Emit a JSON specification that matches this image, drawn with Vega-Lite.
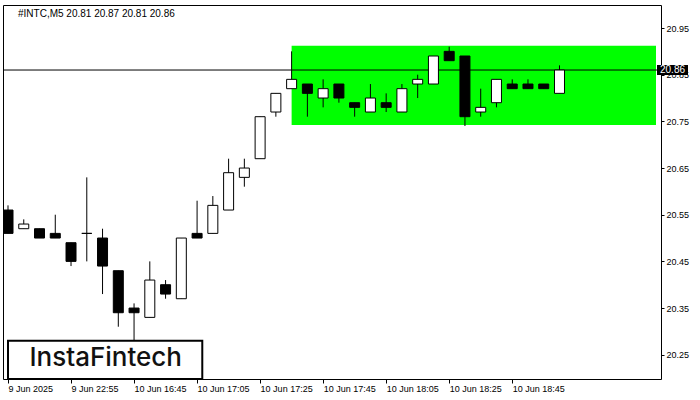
{
  "$schema": "https://vega.github.io/schema/vega-lite/v6.json",
  "autosize": {"type": "none"},
  "width": 658,
  "height": 374,
  "padding": {"left": 3, "top": 5, "right": 39, "bottom": 21},
  "background": "white",
  "config": {
    "view": {"stroke": "black", "strokeWidth": 1},
    "axis": {"grid": false, "domain": false, "labelFont": "Liberation Sans", "labelFontSize": 9, "labelColor": "black", "tickColor": "black", "title": null}
  },
  "title": {"text": "#INTC,M5  20.81 20.87 20.81 20.86", "anchor": "start", "frame": "group", "offset": -14, "dx": 15, "font": "Liberation Sans", "fontSize": 10, "fontWeight": "normal", "color": "black"},
  "datasets": {
    "candles": [
      {"i": 0, "time": "9 Jun 22:35", "open": 20.56, "high": 20.57, "low": 20.51, "close": 20.51},
      {"i": 1, "time": "9 Jun 22:40", "open": 20.52, "high": 20.54, "low": 20.52, "close": 20.53},
      {"i": 2, "time": "9 Jun 22:45", "open": 20.52, "high": 20.52, "low": 20.50, "close": 20.50},
      {"i": 3, "time": "9 Jun 22:50", "open": 20.51, "high": 20.55, "low": 20.50, "close": 20.50},
      {"i": 4, "time": "9 Jun 22:55", "open": 20.49, "high": 20.49, "low": 20.44, "close": 20.45},
      {"i": 5, "time": "10 Jun 16:30", "open": 20.51, "high": 20.63, "low": 20.45, "close": 20.51},
      {"i": 6, "time": "10 Jun 16:35", "open": 20.50, "high": 20.52, "low": 20.38, "close": 20.44},
      {"i": 7, "time": "10 Jun 16:40", "open": 20.43, "high": 20.43, "low": 20.31, "close": 20.34},
      {"i": 8, "time": "10 Jun 16:45", "open": 20.35, "high": 20.36, "low": 20.28, "close": 20.34},
      {"i": 9, "time": "10 Jun 16:50", "open": 20.33, "high": 20.45, "low": 20.33, "close": 20.41},
      {"i": 10, "time": "10 Jun 16:55", "open": 20.40, "high": 20.41, "low": 20.37, "close": 20.38},
      {"i": 11, "time": "10 Jun 17:00", "open": 20.37, "high": 20.50, "low": 20.37, "close": 20.50},
      {"i": 12, "time": "10 Jun 17:05", "open": 20.51, "high": 20.58, "low": 20.50, "close": 20.50},
      {"i": 13, "time": "10 Jun 17:10", "open": 20.51, "high": 20.59, "low": 20.51, "close": 20.57},
      {"i": 14, "time": "10 Jun 17:15", "open": 20.56, "high": 20.67, "low": 20.56, "close": 20.64},
      {"i": 15, "time": "10 Jun 17:20", "open": 20.63, "high": 20.67, "low": 20.61, "close": 20.65},
      {"i": 16, "time": "10 Jun 17:25", "open": 20.67, "high": 20.76, "low": 20.67, "close": 20.76},
      {"i": 17, "time": "10 Jun 17:30", "open": 20.77, "high": 20.81, "low": 20.76, "close": 20.81},
      {"i": 18, "time": "10 Jun 17:35", "open": 20.82, "high": 20.90, "low": 20.82, "close": 20.84},
      {"i": 19, "time": "10 Jun 17:40", "open": 20.83, "high": 20.83, "low": 20.76, "close": 20.81},
      {"i": 20, "time": "10 Jun 17:45", "open": 20.80, "high": 20.84, "low": 20.78, "close": 20.82},
      {"i": 21, "time": "10 Jun 17:50", "open": 20.83, "high": 20.83, "low": 20.79, "close": 20.80},
      {"i": 22, "time": "10 Jun 17:55", "open": 20.79, "high": 20.79, "low": 20.76, "close": 20.78},
      {"i": 23, "time": "10 Jun 18:00", "open": 20.77, "high": 20.83, "low": 20.77, "close": 20.80},
      {"i": 24, "time": "10 Jun 18:05", "open": 20.79, "high": 20.81, "low": 20.77, "close": 20.78},
      {"i": 25, "time": "10 Jun 18:10", "open": 20.77, "high": 20.83, "low": 20.77, "close": 20.82},
      {"i": 26, "time": "10 Jun 18:15", "open": 20.83, "high": 20.85, "low": 20.80, "close": 20.84},
      {"i": 27, "time": "10 Jun 18:20", "open": 20.83, "high": 20.89, "low": 20.83, "close": 20.89},
      {"i": 28, "time": "10 Jun 18:25", "open": 20.90, "high": 20.91, "low": 20.88, "close": 20.88},
      {"i": 29, "time": "10 Jun 18:30", "open": 20.89, "high": 20.89, "low": 20.74, "close": 20.76},
      {"i": 30, "time": "10 Jun 18:35", "open": 20.77, "high": 20.82, "low": 20.76, "close": 20.78},
      {"i": 31, "time": "10 Jun 18:40", "open": 20.79, "high": 20.84, "low": 20.78, "close": 20.84},
      {"i": 32, "time": "10 Jun 18:45", "open": 20.83, "high": 20.84, "low": 20.82, "close": 20.82},
      {"i": 33, "time": "10 Jun 18:50", "open": 20.83, "high": 20.84, "low": 20.82, "close": 20.82},
      {"i": 34, "time": "10 Jun 18:55", "open": 20.83, "high": 20.83, "low": 20.82, "close": 20.82},
      {"i": 35, "time": "10 Jun 19:00", "open": 20.81, "high": 20.87, "low": 20.81, "close": 20.86}
    ],
    "zone": [{"start": 18, "end": 41.125, "low": 20.742, "high": 20.912}],
    "last": [{"price": 20.86, "label": "20.86"}],
    "brand": [{"name": "InstaFintech"}]
  },
  "layer": [
    {
      "data": {"name": "zone"},
      "mark": {"type": "rect", "color": "#00FF00", "clip": true},
      "encoding": {
        "x": {"field": "start", "type": "quantitative", "scale": {"domain": [0, 41.125], "nice": false, "zero": false},
          "axis": {"orient": "bottom", "values": [0, 4, 8, 12, 16, 20, 24, 28, 32], "tickSize": 4, "labelPadding": 1, "labelAlign": "left", "labelBaseline": "top",
            "labelExpr": "['9 Jun 2025','9 Jun 22:55','10 Jun 16:45','10 Jun 17:05','10 Jun 17:25','10 Jun 17:45','10 Jun 18:05','10 Jun 18:25','10 Jun 18:45'][round(datum.value/4)]"}},
        "x2": {"field": "end"},
        "y": {"field": "low", "type": "quantitative", "scale": {"domain": [20.198, 20.9993], "nice": false, "zero": false},
          "axis": {"orient": "right", "values": [20.25, 20.35, 20.45, 20.55, 20.65, 20.75, 20.85, 20.95], "format": ".2f", "tickSize": 3, "labelPadding": 2}},
        "y2": {"field": "high"}
      }
    },
    {
      "data": {"name": "last"},
      "mark": {"type": "rule", "color": "black", "strokeWidth": 1},
      "encoding": {"y": {"field": "price", "type": "quantitative"}}
    },
    {
      "data": {"name": "candles"},
      "mark": {"type": "rule", "color": "black", "strokeWidth": 1, "clip": true},
      "encoding": {
        "x": {"field": "i", "type": "quantitative"},
        "y": {"field": "low", "type": "quantitative"},
        "y2": {"field": "high"}
      }
    },
    {
      "data": {"name": "candles"},
      "mark": {"type": "bar", "size": 10, "stroke": "black", "strokeWidth": 1, "clip": true},
      "encoding": {
        "x": {"field": "i", "type": "quantitative"},
        "y": {"field": "open", "type": "quantitative"},
        "y2": {"field": "close"},
        "fill": {"condition": {"test": "datum.close > datum.open", "value": "white"}, "value": "black"}
      }
    },
    {
      "data": {"name": "brand"},
      "mark": {"type": "rect", "fill": "white", "stroke": "black", "strokeWidth": 2},
      "encoding": {
        "x": {"datum": 0, "type": "quantitative"},
        "x2": {"datum": 12.33},
        "y": {"datum": 20.198, "type": "quantitative"},
        "y2": {"datum": 20.28}
      }
    },
    {
      "data": {"name": "brand"},
      "mark": {"type": "text", "font": "Inter", "fontSize": 26, "fontWeight": 500, "color": "#111111", "align": "center", "baseline": "middle"},
      "encoding": {
        "text": {"field": "name"},
        "x": {"datum": 6.2, "type": "quantitative"},
        "y": {"datum": 20.242, "type": "quantitative"}
      }
    },
    {
      "data": {"name": "last"},
      "mark": {"type": "rect", "fill": "black", "xOffset": 1, "x2Offset": 32, "yOffset": -5, "y2Offset": 5, "clip": false},
      "encoding": {
        "x": {"datum": 41.125, "type": "quantitative"},
        "x2": {"datum": 41.125},
        "y": {"field": "price", "type": "quantitative"},
        "y2": {"field": "price"}
      }
    },
    {
      "data": {"name": "last"},
      "mark": {"type": "text", "color": "white", "font": "Liberation Sans", "fontSize": 10, "align": "left", "baseline": "middle", "dx": 4},
      "encoding": {
        "text": {"field": "label"},
        "x": {"datum": 41.125, "type": "quantitative"},
        "y": {"field": "price", "type": "quantitative"}
      }
    }
  ]
}
